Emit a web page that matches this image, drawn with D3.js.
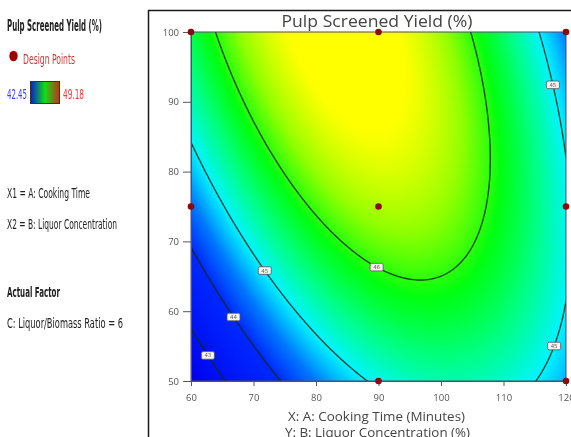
<!DOCTYPE html>
<html>
<head>
<meta charset="utf-8">
<script src="https://cdn.jsdelivr.net/npm/d3@7"></script>
<style>
  html, body { margin: 0; padding: 0; background: #fff; overflow: hidden; }
  #wrap { position: relative; width: 571px; height: 437px; }
  #wrap canvas, #wrap svg { position: absolute; left: 0; top: 0; }
</style>
</head>
<body>
<div id="wrap">
  <canvas id="surface" width="571" height="437"></canvas>
  <svg id="chart" width="571" height="437"></svg>
</div>
<script>
// Factor ranges in actual units and their tick labels
const cookingTimeDomain = [60, 120];
const liquorConcDomain = [50, 100];
const timeTicks = [60, 70, 80, 90, 100, 110, 120];
const concTicks = [50, 60, 70, 80, 90, 100];

// Quadratic response model in coded factors (A = cooking time, B = liquor concentration)
const modelTerms = ["Intercept", "A", "B", "AB", "A^2", "B^2"];
const modelCoefficients = [46.34, 0.32, 0.80, -0.92, -1.59, -0.46];

// Contour levels and where each level carries a label (time, approx. concentration)
const contourLevels = [43, 44, 45, 46];
const labelLevels = [43, 44, 45, 45, 45, 46];
const labelTimes = [62.7, 66.8, 71.8, 117.9, 118.1, 89.7];
const labelConcs = [54.5, 60.2, 66.5, 91.3, 57.0, 66.9];

// Design points of the experiment (time, concentration)
const designTimes = [60, 90, 120, 60, 90, 120, 90, 120];
const designConcs = [100, 100, 100, 75, 75, 75, 50, 50];

// Observed response range shown in the legend
const yieldRange = [42.45, 49.18];

// Colour ramp for the response surface
const rampValues = [42.3, 44.0, 44.5, 44.8, 45.0, 45.5, 45.9, 46.25, 46.6];
const rampColors = ["#0000ee", "#0028ff", "#0078ff", "#00c4ff", "#00f4ff", "#00ff80", "#00ff10", "#90ff00", "#ffff00"];

const W = 571, H = 437;
const plot = { left: 191, right: 566, top: 32, bottom: 381 };

const x = d3.scaleLinear().domain(cookingTimeDomain).range([plot.left, plot.right]);
const y = d3.scaleLinear().domain(liquorConcDomain).range([plot.bottom, plot.top]);
const color = d3.scaleLinear().domain(rampValues).range(rampColors).clamp(true);

const tMid = (cookingTimeDomain[0] + cookingTimeDomain[1]) / 2, tHalf = (cookingTimeDomain[1] - cookingTimeDomain[0]) / 2;
const cMid = (liquorConcDomain[0] + liquorConcDomain[1]) / 2, cHalf = (liquorConcDomain[1] - liquorConcDomain[0]) / 2;
const [b0, bA, bB, bAB, bAA, bBB] = modelCoefficients;

function predict(t, c) {
  const A = (t - tMid) / tHalf, B = (c - cMid) / cHalf;
  return b0 + bA * A + bB * B + bAB * A * B + bAA * A * A + bBB * B * B;
}

// Concentration on a given contour level at a given time, nearest to a guess
function concOnLevel(t, level, guess) {
  const A = (t - tMid) / tHalf;
  const qa = bBB, qb = bB + bAB * A, qc = b0 + bA * A + bAA * A * A - level;
  const disc = Math.sqrt(Math.max(0, qb * qb - 4 * qa * qc));
  const roots = [(-qb + disc) / (2 * qa), (-qb - disc) / (2 * qa)].map(B => cMid + B * cHalf);
  return roots.reduce((best, r) => Math.abs(r - guess) < Math.abs(best - guess) ? r : best);
}

// ---- Filled response surface ----
const ctx = document.getElementById("surface").getContext("2d");
const pw = plot.right - plot.left, ph = plot.bottom - plot.top;
const img = ctx.createImageData(pw, ph);
for (let j = 0; j < ph; j++) {
  const c = y.invert(plot.top + j + 0.5);
  for (let i = 0; i < pw; i++) {
    const t = x.invert(plot.left + i + 0.5);
    const col = d3.rgb(color(predict(t, c)));
    const k = (j * pw + i) * 4;
    img.data[k] = col.r; img.data[k + 1] = col.g; img.data[k + 2] = col.b; img.data[k + 3] = 255;
  }
}
ctx.putImageData(img, plot.left, plot.top);

const svg = d3.select("#chart");

// Outer frame of the graph panel
svg.append("path")
  .attr("d", `M148.5,${H} V10.5 H${W}`)
  .attr("fill", "none").attr("stroke", "#1a1a1a").attr("stroke-width", 1.5);

// ---- Contour lines ----
const nx = 301, ny = 251;
const grid = new Float64Array(nx * ny);
for (let j = 0; j < ny; j++) {
  const c = liquorConcDomain[1] - j * (liquorConcDomain[1] - liquorConcDomain[0]) / (ny - 1);
  for (let i = 0; i < nx; i++) {
    const t = cookingTimeDomain[0] + i * (cookingTimeDomain[1] - cookingTimeDomain[0]) / (nx - 1);
    grid[j * nx + i] = predict(t, c);
  }
}
const gx = g => x(cookingTimeDomain[0] + (g - 0.5) * (cookingTimeDomain[1] - cookingTimeDomain[0]) / (nx - 1));
const gy = g => y(liquorConcDomain[1] - (g - 0.5) * (liquorConcDomain[1] - liquorConcDomain[0]) / (ny - 1));
const onBorder = p => p[0] <= 0 || p[0] >= nx || p[1] <= 0 || p[1] >= ny;

const contours = d3.contours().size([nx, ny]).thresholds(contourLevels)(grid);

svg.append("clipPath").attr("id", "plotClip")
  .append("rect").attr("x", plot.left).attr("y", plot.top).attr("width", pw).attr("height", ph);

const lineLayer = svg.append("g").attr("clip-path", "url(#plotClip)");
contours.forEach(mp => {
  const path = d3.path();
  mp.coordinates.forEach(poly => poly.forEach(ring => {
    let penDown = false;
    for (let k = 1; k < ring.length; k++) {
      const a = ring[k - 1], b = ring[k];
      if (onBorder(a) && onBorder(b)) { penDown = false; continue; }
      if (!penDown) { path.moveTo(gx(a[0]), gy(a[1])); penDown = true; }
      path.lineTo(gx(b[0]), gy(b[1]));
    }
  }));
  lineLayer.append("path")
    .attr("d", path.toString())
    .attr("fill", "none")
    .attr("stroke", "#0c2a16")
    .attr("stroke-opacity", 0.85)
    .attr("stroke-width", 1.4)
    .attr("stroke-linejoin", "round");
});

// Plot border
svg.append("rect")
  .attr("x", plot.left).attr("y", plot.top).attr("width", pw).attr("height", ph)
  .attr("fill", "none").attr("stroke", "#4a4a6a").attr("stroke-width", 1);

// ---- Axes ----
const xAxis = svg.append("g")
  .attr("transform", `translate(0,${plot.bottom})`)
  .call(d3.axisBottom(x).tickValues(timeTicks).tickSize(5).tickPadding(8).tickSizeOuter(0));
const yAxis = svg.append("g")
  .attr("transform", `translate(${plot.left},0)`)
  .call(d3.axisLeft(y).tickValues(concTicks).tickSize(8).tickPadding(4).tickSizeOuter(0));
[xAxis, yAxis].forEach(ax => {
  ax.selectAll("path.domain").attr("stroke", "#555");
  ax.selectAll(".tick line").attr("stroke", "#555");
  ax.selectAll(".tick text")
    .attr("fill", "#555")
    .style("font-family", "'Open Sans', 'DejaVu Sans', sans-serif")
    .style("font-size", "9.5px");
});

// ---- Contour labels ----
const labelLayer = svg.append("g");
labelLevels.forEach((lv, i) => {
  const t = labelTimes[i];
  const c = concOnLevel(t, lv, labelConcs[i]);
  const g = labelLayer.append("g").attr("transform", `translate(${x(t)},${y(c)})`);
  g.append("rect")
    .attr("x", -6.5).attr("y", -3.8).attr("width", 13).attr("height", 7.6).attr("rx", 1.5)
    .attr("fill", "#f4f4f4").attr("stroke", "#555").attr("stroke-width", 0.8);
  g.append("text")
    .attr("text-anchor", "middle").attr("dy", "0.35em")
    .style("font-family", "'DejaVu Sans', sans-serif").style("font-size", "5.5px")
    .attr("fill", "#666").text(lv);
});

// ---- Design points ----
svg.append("g").selectAll("circle")
  .data(designTimes.map((t, i) => [t, designConcs[i]]))
  .join("circle")
  .attr("cx", d => x(d[0])).attr("cy", d => y(d[1])).attr("r", 3.3)
  .attr("fill", "#8c0a0a");

// ---- Titles ----
svg.append("text")
  .attr("x", 377).attr("y", 26.5).attr("text-anchor", "middle")
  .style("font-family", "'Open Sans', 'DejaVu Sans', sans-serif").style("font-size", "15.5px")
  .attr("fill", "#444").attr("textLength", 191).attr("lengthAdjust", "spacingAndGlyphs")
  .text("Pulp Screened Yield (%)");
svg.append("text")
  .attr("x", 376.5).attr("y", 421).attr("text-anchor", "middle")
  .style("font-family", "'Open Sans', 'DejaVu Sans', sans-serif").style("font-size", "13px")
  .attr("fill", "#444").attr("textLength", 177).attr("lengthAdjust", "spacingAndGlyphs")
  .text("X: A: Cooking Time (Minutes)");
svg.append("text")
  .attr("x", 377.5).attr("y", 437).attr("text-anchor", "middle")
  .style("font-family", "'Open Sans', 'DejaVu Sans', sans-serif").style("font-size", "13px")
  .attr("fill", "#444").attr("textLength", 185).attr("lengthAdjust", "spacingAndGlyphs")
  .text("Y: B: Liquor Concentration (%)");

// ---- Side legend ----
const narrow = "'Liberation Sans Narrow', 'DejaVu Sans Condensed', sans-serif";
function sideText(txt, xx, yy, len, opts = {}) {
  return svg.append("text")
    .attr("x", xx).attr("y", yy)
    .style("font-family", narrow).style("font-size", (opts.size || 14.5) + "px")
    .style("font-weight", opts.bold ? "bold" : "normal")
    .attr("fill", opts.fill || "#222")
    .attr("textLength", len).attr("lengthAdjust", "spacingAndGlyphs")
    .text(txt);
}
sideText("Pulp Screened Yield (%)", 7, 31, 95, { bold: true, size: 15.5 });
svg.append("ellipse").attr("cx", 13.5).attr("cy", 56).attr("rx", 4.2).attr("ry", 5.2).attr("fill", "#a00000");
sideText("Design Points", 23, 64, 52, { fill: "#c83a3a" });

const grad = svg.append("defs").append("linearGradient").attr("id", "legendGrad");
[[0, "#0a1ad8"], [0.5, "#10e010"], [1, "#c0301c"]].forEach(([o, c]) =>
  grad.append("stop").attr("offset", o).attr("stop-color", c));
sideText(d3.format(".2f")(yieldRange[0]), 7, 98.5, 20, { fill: "#3a3aff" });
svg.append("rect").attr("x", 30.5).attr("y", 81.5).attr("width", 29).attr("height", 22)
  .attr("fill", "url(#legendGrad)").attr("stroke", "#333").attr("stroke-width", 1);
sideText(d3.format(".2f")(yieldRange[1]), 63, 98.5, 21, { fill: "#ee3a3a" });

sideText("X1 = A: Cooking Time", 7, 198, 83);
sideText("X2 = B: Liquor Concentration", 7, 229, 110);
sideText("Actual Factor", 7, 297, 53, { bold: true });
sideText("C: Liquor/Biomass Ratio = 6", 7, 328, 116);
</script>
</body>
</html>
